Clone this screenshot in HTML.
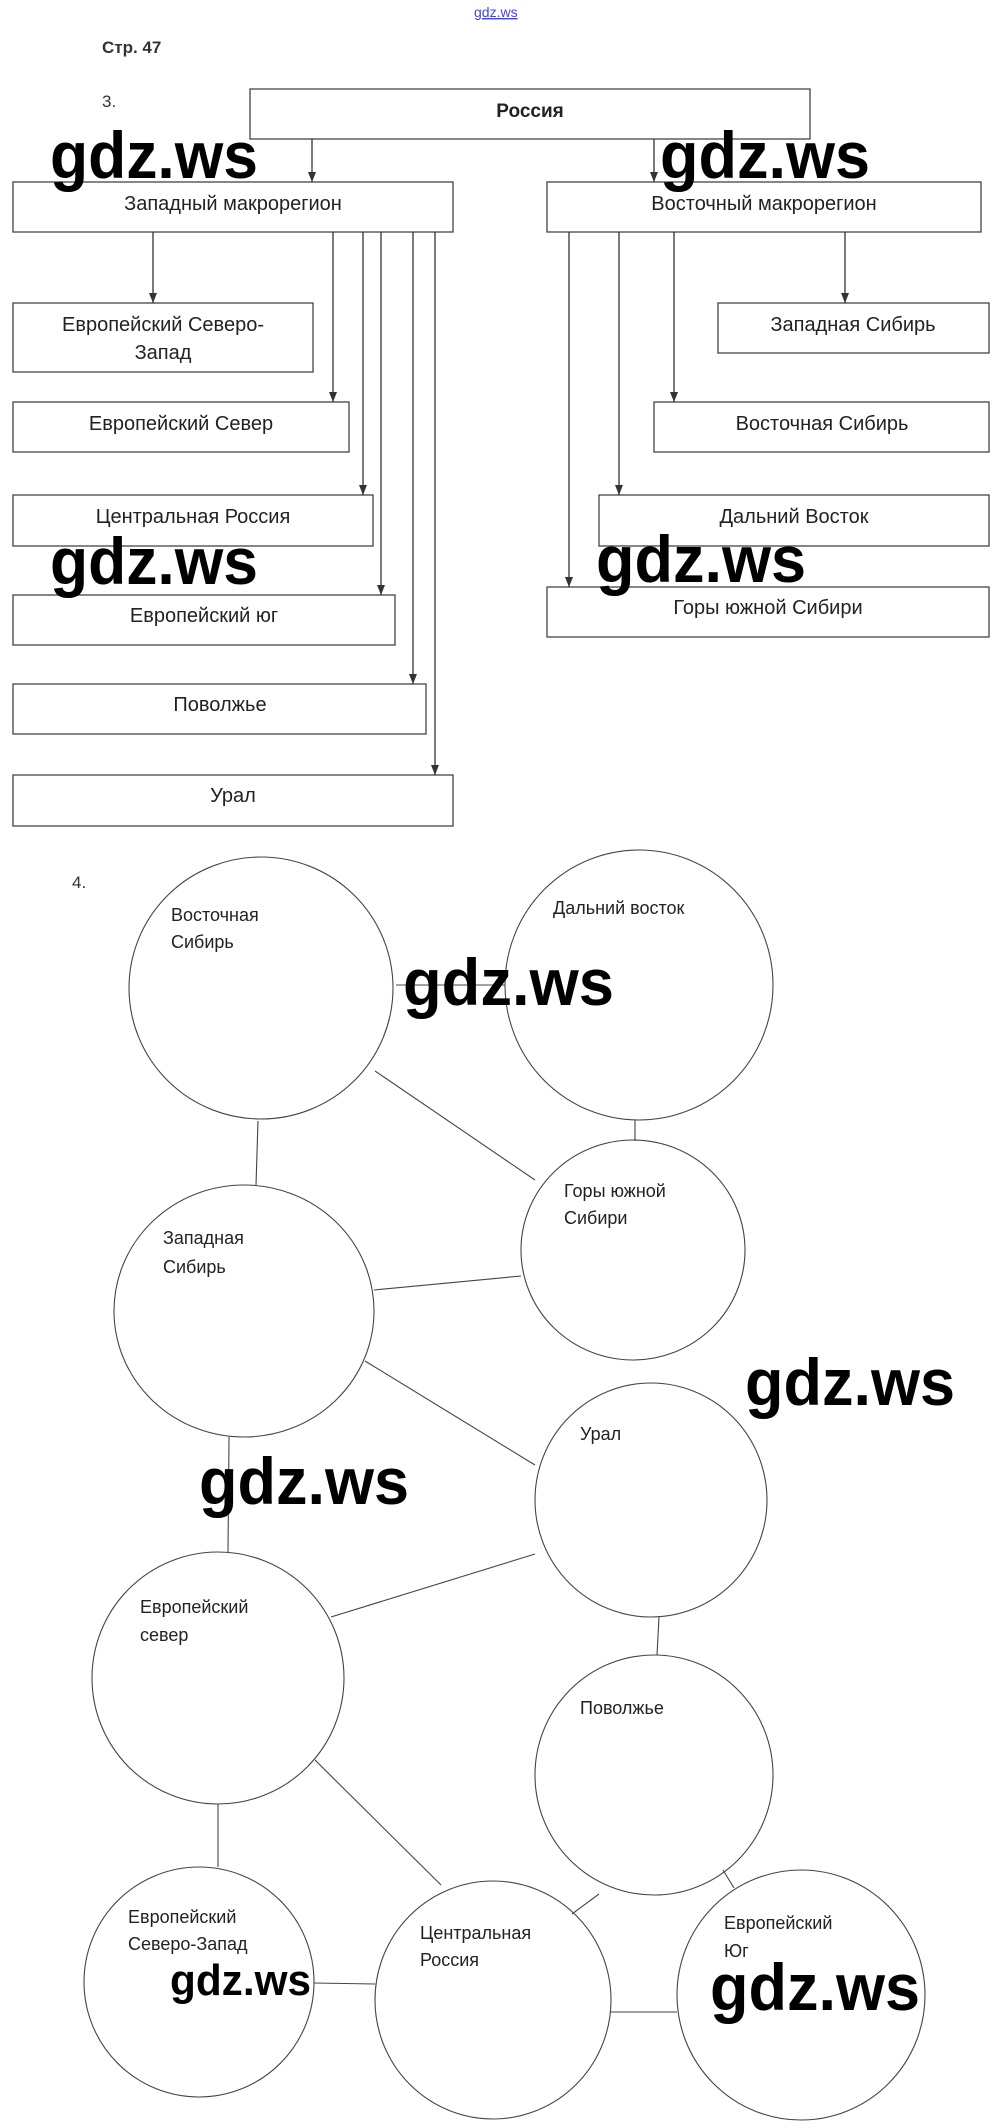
<!DOCTYPE html>
<html><head><meta charset="utf-8"><style>
html,body{margin:0;padding:0;background:#fff}
svg{display:block}
</style></head><body>
<svg width="1000" height="2127" viewBox="0 0 1000 2127" xmlns="http://www.w3.org/2000/svg" font-family="Liberation Sans, Arial, sans-serif">
<defs><marker id="a" markerWidth="10" markerHeight="8" refX="10" refY="4" orient="auto" markerUnits="userSpaceOnUse"><path d="M0,0 L10,4 L0,8 z" fill="#333"/></marker></defs>
<text x="474" y="17" font-size="14" fill="#4444dd" text-decoration="underline">gdz.ws</text>
<text x="102" y="53" font-size="17" font-weight="bold" fill="#333">Стр. 47</text>
<text x="102" y="107" font-size="17" fill="#333">3.</text>
<g fill="#fff" stroke="#444" stroke-width="1.3">
<rect x="250" y="89" width="560" height="50"/>
<rect x="13" y="182" width="440" height="50"/>
<rect x="547" y="182" width="434" height="50"/>
<rect x="13" y="303" width="300" height="69"/>
<rect x="13" y="402" width="336" height="50"/>
<rect x="13" y="495" width="360" height="51"/>
<rect x="13" y="595" width="382" height="50"/>
<rect x="13" y="684" width="413" height="50"/>
<rect x="13" y="775" width="440" height="51"/>
<rect x="718" y="303" width="271" height="50"/>
<rect x="654" y="402" width="335" height="50"/>
<rect x="599" y="495" width="390" height="51"/>
<rect x="547" y="587" width="442" height="50"/>
</g>
<g stroke="#333" stroke-width="1.3" marker-end="url(#a)">
<line x1="312" y1="139" x2="312" y2="182"/>
<line x1="654" y1="139" x2="654" y2="182"/>
<line x1="153" y1="232" x2="153" y2="303"/>
<line x1="333" y1="232" x2="333" y2="402"/>
<line x1="363" y1="232" x2="363" y2="495"/>
<line x1="381" y1="232" x2="381" y2="595"/>
<line x1="413" y1="232" x2="413" y2="684"/>
<line x1="435" y1="232" x2="435" y2="775"/>
<line x1="845" y1="232" x2="845" y2="303"/>
<line x1="674" y1="232" x2="674" y2="402"/>
<line x1="619" y1="232" x2="619" y2="495"/>
<line x1="569" y1="232" x2="569" y2="587"/>
</g>
<g font-size="20" fill="#222" text-anchor="middle">
<text x="530" y="117" font-weight="bold" font-size="19">Россия</text>
<text x="233" y="210">Западный макрорегион</text>
<text x="764" y="210">Восточный макрорегион</text>
<text x="163" y="331">Европейский Северо-</text>
<text x="163" y="359">Запад</text>
<text x="181" y="430">Европейский Север</text>
<text x="193" y="523">Центральная Россия</text>
<text x="204" y="622">Европейский юг</text>
<text x="220" y="711">Поволжье</text>
<text x="233" y="802">Урал</text>
<text x="853" y="331">Западная Сибирь</text>
<text x="822" y="430">Восточная Сибирь</text>
<text x="794" y="523">Дальний Восток</text>
<text x="768" y="614">Горы южной Сибири</text>
</g>
<text x="72" y="888" font-size="17" fill="#333">4.</text>
<g stroke="#444" stroke-width="1.1">
<line x1="375" y1="1071" x2="535" y2="1180"/>
<line x1="258" y1="1121" x2="256" y2="1185"/>
<line x1="635" y1="1120" x2="635" y2="1141"/>
<line x1="374" y1="1290" x2="521" y2="1276"/>
<line x1="365" y1="1361" x2="535" y2="1465"/>
<line x1="229" y1="1437" x2="228" y2="1552"/>
<line x1="331" y1="1617" x2="535" y2="1554"/>
<line x1="659" y1="1617" x2="657" y2="1655"/>
<line x1="218" y1="1804" x2="218" y2="1867"/>
<line x1="315" y1="1760" x2="441" y2="1885"/>
<line x1="314" y1="1983" x2="375" y2="1984"/>
<line x1="599" y1="1894" x2="572" y2="1914"/>
<line x1="723" y1="1870" x2="734" y2="1888"/>
<line x1="611" y1="2012" x2="677" y2="2012"/>
<line x1="396" y1="985" x2="505" y2="985"/>
</g>
<g fill="none" stroke="#444" stroke-width="1.1">
<ellipse cx="261" cy="988" rx="132" ry="131"/>
<ellipse cx="639" cy="985" rx="134" ry="135"/>
<ellipse cx="633" cy="1250" rx="112" ry="110"/>
<ellipse cx="244" cy="1311" rx="130" ry="126"/>
<ellipse cx="651" cy="1500" rx="116" ry="117"/>
<ellipse cx="218" cy="1678" rx="126" ry="126"/>
<ellipse cx="654" cy="1775" rx="119" ry="120"/>
<ellipse cx="199" cy="1982" rx="115" ry="115"/>
<ellipse cx="493" cy="2000" rx="118" ry="119"/>
<ellipse cx="801" cy="1995" rx="124" ry="125"/>
</g>
<g font-size="18" fill="#222">
<text x="171" y="921">Восточная</text><text x="171" y="948">Сибирь</text>
<text x="553" y="914">Дальний восток</text>
<text x="564" y="1197">Горы южной</text><text x="564" y="1224">Сибири</text>
<text x="163" y="1244">Западная</text><text x="163" y="1273">Сибирь</text>
<text x="580" y="1440">Урал</text>
<text x="140" y="1613">Европейский</text><text x="140" y="1641">север</text>
<text x="580" y="1714">Поволжье</text>
<text x="128" y="1923">Европейский</text><text x="128" y="1950">Северо-Запад</text>
<text x="420" y="1939">Центральная</text><text x="420" y="1966">Россия</text>
<text x="724" y="1929">Европейский</text><text x="724" y="1957">Юг</text>
</g>
<g font-size="66" font-weight="bold" fill="#000">
<text x="50" y="178" textLength="208" lengthAdjust="spacingAndGlyphs">gdz.ws</text>
<text x="660" y="178" textLength="210" lengthAdjust="spacingAndGlyphs">gdz.ws</text>
<text x="50" y="584" textLength="208" lengthAdjust="spacingAndGlyphs">gdz.ws</text>
<text x="596" y="582" textLength="210" lengthAdjust="spacingAndGlyphs">gdz.ws</text>
<text x="403" y="1005" textLength="211" lengthAdjust="spacingAndGlyphs">gdz.ws</text>
<text x="745" y="1405" textLength="210" lengthAdjust="spacingAndGlyphs">gdz.ws</text>
<text x="199" y="1504" textLength="210" lengthAdjust="spacingAndGlyphs">gdz.ws</text>
<text x="170" y="1995" textLength="141" lengthAdjust="spacingAndGlyphs" font-size="44">gdz.ws</text>
<text x="710" y="2010" textLength="210" lengthAdjust="spacingAndGlyphs">gdz.ws</text>
</g>
</svg>
</body></html>
